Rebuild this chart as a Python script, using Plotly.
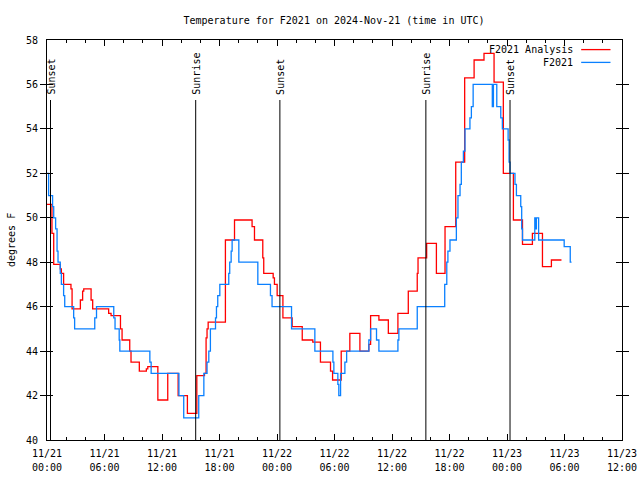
import plotly.graph_objects as go

# ---- data ----
analysis_times = [
    "2024-11-21 00:00", "2024-11-21 00:31", "2024-11-21 00:42", "2024-11-21 01:23", "2024-11-21 01:30",
    "2024-11-21 01:44", "2024-11-21 02:30", "2024-11-21 02:37", "2024-11-21 03:29", "2024-11-21 03:43",
    "2024-11-21 03:50", "2024-11-21 04:36", "2024-11-21 04:46", "2024-11-21 06:26", "2024-11-21 06:41",
    "2024-11-21 07:40", "2024-11-21 07:50", "2024-11-21 08:38", "2024-11-21 08:46", "2024-11-21 09:38",
    "2024-11-21 10:22", "2024-11-21 10:31", "2024-11-21 11:34", "2024-11-21 12:36", "2024-11-21 13:41",
    "2024-11-21 14:39", "2024-11-21 15:38", "2024-11-21 16:26", "2024-11-21 16:36", "2024-11-21 16:42",
    "2024-11-21 16:49", "2024-11-21 18:37", "2024-11-21 19:34", "2024-11-21 21:24", "2024-11-21 21:39",
    "2024-11-21 22:31", "2024-11-21 22:37", "2024-11-21 23:36", "2024-11-21 23:44", "2024-11-22 00:01",
    "2024-11-22 00:37", "2024-11-22 01:35", "2024-11-22 02:38", "2024-11-22 03:44", "2024-11-22 04:32",
    "2024-11-22 05:35", "2024-11-22 05:48", "2024-11-22 06:42", "2024-11-22 07:36", "2024-11-22 08:39",
    "2024-11-22 09:35", "2024-11-22 09:46", "2024-11-22 10:38", "2024-11-22 11:37", "2024-11-22 12:37",
    "2024-11-22 13:42", "2024-11-22 14:38", "2024-11-22 14:43", "2024-11-22 15:37", "2024-11-22 16:38",
    "2024-11-22 17:32", "2024-11-22 18:39", "2024-11-22 19:35", "2024-11-22 20:34", "2024-11-22 21:36",
    "2024-11-22 22:39", "2024-11-22 23:37", "2024-11-23 00:40", "2024-11-23 01:37", "2024-11-23 02:39",
    "2024-11-23 03:42", "2024-11-23 04:38", "2024-11-23 05:41",
]
analysis_temps = [
    50.6, 49.3, 47.9, 47.7, 47.5,
    47.0, 46.8, 45.9, 46.3, 46.7,
    46.8, 46.3, 45.9, 45.7, 45.6,
    45.0, 44.5, 44.0, 43.5, 43.1,
    43.2, 43.3, 41.8, 43.0, 42.0,
    41.2, 42.9, 43.0, 44.6, 45.0,
    45.3, 49.0, 49.9, 49.6, 49.0,
    48.2, 47.5, 47.3, 47.0, 46.5,
    45.5, 45.1, 44.5, 44.4, 43.5,
    43.1, 42.7, 44.0, 44.8, 44.0,
    44.3, 45.6, 45.4, 44.8, 45.7,
    46.7, 47.5, 48.2, 48.85, 47.5,
    49.6, 52.5, 56.3, 57.1, 57.4,
    56.1, 52.0, 49.9, 48.8, 49.3,
    47.8, 48.1, 48.1,
]

station_times = [
    "2024-11-21 00:00", "2024-11-21 00:10", "2024-11-21 00:35", "2024-11-21 00:42", "2024-11-21 00:54",
    "2024-11-21 01:03", "2024-11-21 01:09", "2024-11-21 01:23", "2024-11-21 01:30", "2024-11-21 01:44",
    "2024-11-21 01:51", "2024-11-21 02:47", "2024-11-21 02:53", "2024-11-21 04:59", "2024-11-21 05:10",
    "2024-11-21 06:58", "2024-11-21 07:06", "2024-11-21 07:32", "2024-11-21 07:36", "2024-11-21 10:44",
    "2024-11-21 10:52", "2024-11-21 13:46", "2024-11-21 14:16", "2024-11-21 15:50", "2024-11-21 16:22",
    "2024-11-21 16:42", "2024-11-21 16:53", "2024-11-21 17:03", "2024-11-21 17:35", "2024-11-21 17:41",
    "2024-11-21 17:49", "2024-11-21 18:02", "2024-11-21 18:58", "2024-11-21 19:04", "2024-11-21 19:13",
    "2024-11-21 19:19", "2024-11-21 20:01", "2024-11-21 22:00", "2024-11-21 23:19", "2024-11-21 23:29",
    "2024-11-22 01:31", "2024-11-22 03:57", "2024-11-22 05:50", "2024-11-22 05:56", "2024-11-22 06:21",
    "2024-11-22 06:27", "2024-11-22 06:38", "2024-11-22 07:05", "2024-11-22 07:16", "2024-11-22 09:35",
    "2024-11-22 09:46", "2024-11-22 10:23", "2024-11-22 10:38", "2024-11-22 12:37", "2024-11-22 12:43",
    "2024-11-22 14:38", "2024-11-22 17:30", "2024-11-22 17:43", "2024-11-22 17:50", "2024-11-22 18:03",
    "2024-11-22 18:43", "2024-11-22 18:53", "2024-11-22 19:06", "2024-11-22 19:14", "2024-11-22 19:27",
    "2024-11-22 19:37", "2024-11-22 20:08", "2024-11-22 20:17", "2024-11-22 20:28", "2024-11-22 22:28",
    "2024-11-22 22:35", "2024-11-22 22:56", "2024-11-22 23:21", "2024-11-22 23:31", "2024-11-23 00:07",
    "2024-11-23 00:13", "2024-11-23 00:19", "2024-11-23 00:50", "2024-11-23 00:59", "2024-11-23 01:26",
    "2024-11-23 01:32", "2024-11-23 01:37", "2024-11-23 02:54", "2024-11-23 03:00", "2024-11-23 03:04",
    "2024-11-23 03:18", "2024-11-23 05:58", "2024-11-23 06:36", "2024-11-23 06:44",
]
station_temps = [
    52.0, 51.0, 50.5, 50.0, 49.5,
    48.5, 48.0, 47.5, 47.0, 46.5,
    46.0, 45.5, 45.0, 45.5, 46.0,
    45.5, 45.0, 44.5, 44.0, 43.5,
    43.0, 42.0, 41.0, 42.0, 43.0,
    43.5, 44.0, 45.0, 45.5, 46.0,
    46.5, 47.0, 47.5, 48.0, 48.5,
    49.0, 48.0, 47.0, 46.5, 46.0,
    45.0, 44.0, 43.5, 43.0, 42.5,
    42.0, 43.0, 43.5, 44.0, 44.5,
    45.0, 44.5, 44.0, 44.5, 45.0,
    46.0, 47.0, 48.0, 48.5, 49.0,
    50.0, 51.0, 51.5, 52.5, 53.0,
    54.0, 54.5, 55.0, 56.0, 55.0,
    56.0, 55.0, 54.5, 54.0, 53.5,
    52.5, 52.0, 51.5, 51.0, 50.5,
    49.5, 49.0, 50.0, 49.5, 50.0,
    49.0, 48.7, 48.0, 48.0,
]

event_times = ["2024-11-21 00:22", "2024-11-21 15:31", "2024-11-22 00:18", "2024-11-22 15:32", "2024-11-23 00:19"]
event_labels = ["Sunset", "Sunrise", "Sunset", "Sunrise", "Sunset"]
event_line_top = 55.3

x_range = ["2024-11-21 00:00", "2024-11-23 12:00"]
y_range = [40, 58]

title_text = "Temperature for F2021 on 2024-Nov-21 (time in UTC)"
y_title = "degrees F"
series_names = ["F2021 Analysis", "F2021"]
series_colors = ["#ff0000", "#0a80ff"]

FONT = "DejaVu Sans Mono"
TXT = dict(family=FONT, size=10, color="black")

W, H = 640, 480

fig = go.Figure()
fig.add_trace(go.Scatter(x=analysis_times, y=analysis_temps, mode="lines", line_shape="hv",
                         line=dict(color=series_colors[0], width=1.3), name=series_names[0]))
fig.add_trace(go.Scatter(x=station_times, y=station_temps, mode="lines", line_shape="hv",
                         line=dict(color=series_colors[1], width=1.3), name=series_names[1]))
# invisible trace to carry the second (time-of-day) label row
fig.add_trace(go.Scatter(x=x_range, y=y_range, mode="lines", line=dict(width=0), opacity=0,
                         hoverinfo="skip", xaxis="x2", showlegend=False))

# event lines and labels
for t, lab in zip(event_times, event_labels):
    fig.add_shape(type="line", xref="x", yref="y", x0=t, x1=t, y0=y_range[0], y1=event_line_top,
                  line=dict(color="black", width=1))
    fig.add_annotation(x=t, y=event_line_top, xref="x", yref="y", text=lab, textangle=-90,
                       showarrow=False, xanchor="center", yanchor="bottom", yshift=3, font=TXT)

# gnuplot-style legend (text, then line sample to the right)
leg_y = [0.976, 0.944]
for name, col, yy in zip(series_names, series_colors, leg_y):
    fig.add_annotation(x=0.918, y=yy, xref="paper", yref="paper", text=name, showarrow=False,
                       xanchor="right", yanchor="middle", font=TXT)
    fig.add_shape(type="line", xref="paper", yref="paper", x0=0.929, x1=0.98, y0=yy, y1=yy,
                  line=dict(color=col, width=1.3))

fig.add_annotation(x=0, y=0.5, xref="paper", yref="paper", text=y_title, textangle=-90,
                   showarrow=False, xshift=-36, xanchor="center", yanchor="middle", font=TXT)

fig.update_layout(
    width=W, height=H, autosize=False,
    margin=dict(l=47, r=18, t=40, b=40, autoexpand=False),
    paper_bgcolor="white", plot_bgcolor="white",
    showlegend=False,
    hovermode=False,
    title=dict(text=title_text, x=334 / W, xanchor="center", y=1 - 20 / H,
               yanchor="middle", font=TXT, automargin=False),
    font=TXT,
    xaxis=dict(
        range=x_range, type="date", tick0="2024-11-21 00:00", dtick=6 * 3600 * 1000,
        tickformat="%m/%d", ticks="inside", ticklen=6, tickcolor="black",
        showline=True, linecolor="black", linewidth=1, mirror="allticks", showgrid=False, zeroline=False,
        minor=dict(dtick=2 * 3600 * 1000, ticks="inside", ticklen=3, tickcolor="black", showgrid=False),
        tickfont=TXT, automargin=False, ticklabelstandoff=4,
    ),
    xaxis2=dict(
        range=x_range, type="date", tick0="2024-11-21 00:00", dtick=6 * 3600 * 1000,
        tickformat="%H:%M", overlaying="x", anchor="y", side="bottom", ticks="",
        showline=False, showgrid=False, zeroline=False, tickfont=TXT, automargin=False,
        ticklabelstandoff=20,
    ),
    yaxis=dict(
        range=y_range, dtick=2, ticks="inside", ticklen=6, tickcolor="black",
        showline=True, linecolor="black", linewidth=1, mirror="allticks", showgrid=False, zeroline=False,
        ticklabelstandoff=6, tickfont=TXT, automargin=False,
    ),
)

# remove the browser's default 8px page margin so the figure sits at the window origin
fig.write_html("out.html", config={"displayModeBar": False, "staticPlot": True},
               post_script="document.body.style.margin='0';document.body.style.overflow='hidden';")
